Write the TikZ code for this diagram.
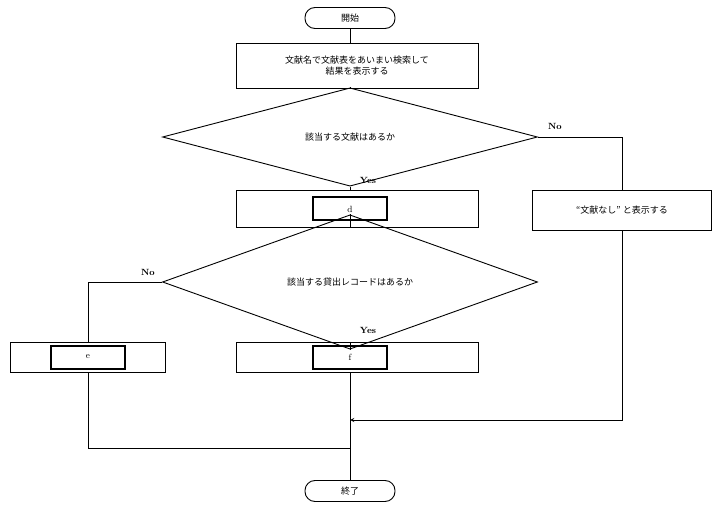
\documentclass[tikz,border=0pt]{standalone}
\usepackage{fontspec}
\newfontfamily\jp{Noto Sans CJK JP}
\usetikzlibrary{shapes.geometric}

\begin{document}
\begin{tikzpicture}[x=1pt,y=-1pt,line width=0.9pt,
    term/.style={draw, rounded corners=10pt, minimum width=90pt, minimum height=21pt, font=\jp\small},
    proc/.style={draw, minimum width=242pt, minimum height=37pt, font=\jp\small, align=center, inner sep=0pt},
    dec/.style={draw, diamond, minimum width=375pt, minimum height=62pt, inner sep=0pt, font=\jp\small},
    sub/.style={draw, line width=2pt, minimum width=74pt, minimum height=23pt, font=\small},
    lbl/.style={font=\small\bfseries}]
                    \useasboundingbox (0,0) rectangle (721,516);
                    % Nodes
                    \node[term] (start) at (350, 18) {開始};
                    \node[proc, minimum height=45pt] (search) at (357, 66) {文献名で文献表をあいまい検索して\\結果を表示する};
                    \node[dec] (hasdoc) at (350, 137) {該当する文献はあるか};
                    \node[proc] (boxd) at (357, 209) {};
                    \node[sub] (d) at (350, 209) {d};
                    \node[proc, minimum width=179pt, minimum height=40pt] (nodoc) at (622, 210) {“文献なし” と表示する};
                    \node[dec] (hasloan) at (350, 282) {該当する貸出レコードはあるか};
                    \node[proc, minimum width=155pt, minimum height=30pt] (boxe) at (88, 357) {};
                    \node[sub] (e) at (88, 357) {e};
                    \node[proc, minimum height=30pt] (boxf) at (357, 357) {};
                    \node[sub] (f) at (350, 357) {f};
                    \node[term] (end) at (350, 491) {終了};
                    \coordinate (join) at (350, 420);
                    \coordinate (merge) at (350, 448);

                    % Connectors
                    \draw (start) -- (start |- search.north);
                    \draw (search.south -| start) -- (hasdoc.north);
                    \draw (hasdoc.south) -- (hasdoc.south |- boxd.north);
                    \draw (hasdoc.east) -| (nodoc.north);
                    \draw (hasdoc.south |- boxd.south) -- (hasloan.north);
                    \draw (hasloan.west) -| (boxe.north);
                    \draw (hasloan.south) -- (hasloan.south |- boxf.north);
                    \draw (hasloan.south |- boxf.south) -- (end.north);
                    \draw[->, >=stealth] (nodoc.south) |- (join);
                    \draw (boxe.south) |- (merge);

                    % Labels
                    \node[lbl] (yes1) at (368, 180) {Yes};
                    \node[lbl] (no1) at (555, 126) {No};
                    \node[lbl] (yes2) at (368, 330) {Yes};
                    \node[lbl] (no2) at (148, 272) {No};
                \end{tikzpicture}
\end{document}
